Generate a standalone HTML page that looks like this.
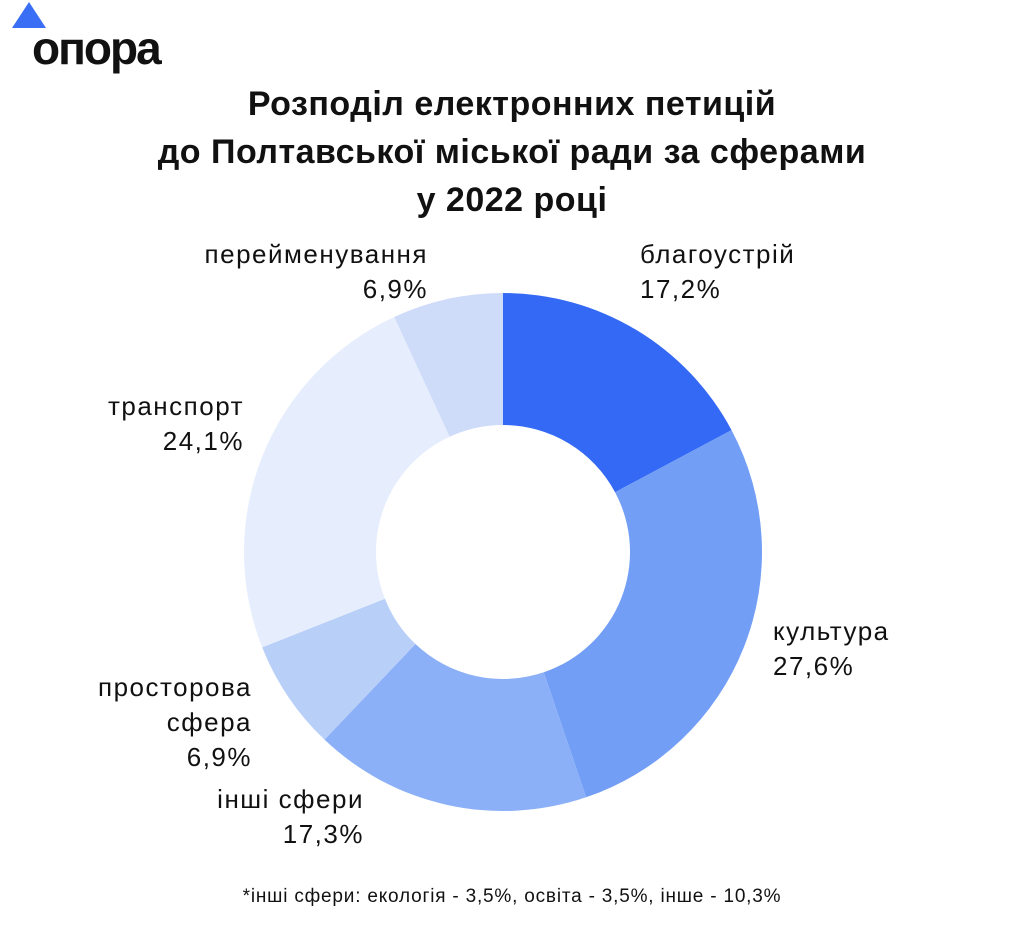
<!DOCTYPE html>
<html><head><meta charset="utf-8"><style>
body{margin:0;width:1024px;height:927px;background:#fff;position:relative;overflow:hidden;font-family:"Liberation Sans","DejaVu Sans",sans-serif;color:#111}
.t{position:absolute;left:0;width:1024px;text-align:center;font-weight:bold;font-size:34px;line-height:48px;top:80px;letter-spacing:0.5px}
.l{position:absolute;font-size:26px;line-height:35px;letter-spacing:1.5px}
.r{text-align:right}
.f{position:absolute;left:0;width:1024px;text-align:center;font-size:19px;letter-spacing:0.8px;top:886px}
</style></head><body>
<svg style="position:absolute;left:0;top:0" width="200" height="80">
<polygon points="29,2 12,28 46,28" fill="#3a6ef5"/>
<text x="32" y="64" font-family="Liberation Sans" font-weight="bold" font-size="46" fill="#111" letter-spacing="-2">опора</text>
</svg>
<div class="t">Розподіл електронних петицій<br>до Полтавської міської ради за сферами<br>у 2022 році</div>
<svg style="position:absolute;left:0;top:0" width="1024" height="927" id="d"></svg>
<div class="l" style="left:640px;top:237px">благоустрій<br>17,2%</div>
<div class="l r" style="right:596px;top:237px">перейменування<br>6,9%</div>
<div class="l r" style="right:780px;top:389px">транспорт<br>24,1%</div>
<div class="l" style="left:773px;top:614px">культура<br>27,6%</div>
<div class="l r" style="right:772px;top:670px">просторова<br>сфера<br>6,9%</div>
<div class="l r" style="right:660px;top:782px">інші сфери<br>17,3%</div>
<div class="f">*інші сфери: екологія - 3,5%, освіта - 3,5%, інше - 10,3%</div>
<script>
var v=[17.2,27.6,17.3,6.9,24.1,6.9],c=["#3369f5","#729ef5","#8cb0f7","#b8cff8","#e6eefd","#cfdcf9"];
var cx=503,cy=552,R=259,r=127,a=0,s="";
function p(rad,ang){return [cx+rad*Math.sin(ang),cy-rad*Math.cos(ang)];}
v.forEach(function(x,i){var b=a+x/100*2*Math.PI,l=(b-a)>Math.PI?1:0;
var A=p(R,a),B=p(R,b),C=p(r,b),D=p(r,a);
s+='<path fill="'+c[i]+'" d="M'+A+' A'+R+' '+R+' 0 '+l+' 1 '+B+' L'+C+' A'+r+' '+r+' 0 '+l+' 0 '+D+'Z"/>';a=b;});
document.getElementById("d").innerHTML=s;
</script>
</body></html>
